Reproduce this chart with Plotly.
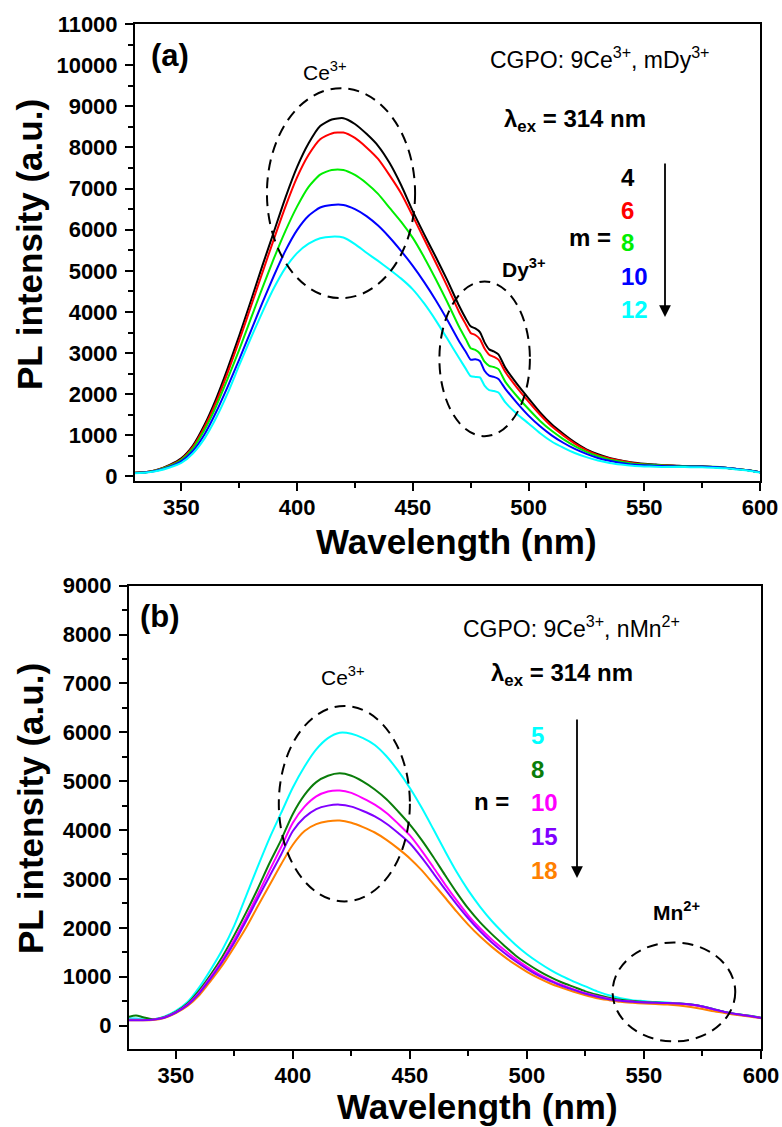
import plotly.graph_objects as go

# ---------------- data: panel (a) ----------------
lam_a = [330, 335, 340, 345, 350, 355, 360, 365, 370, 375, 380, 385, 390, 395, 400, 405, 410, 415, 420,
         425, 430, 435, 440, 445, 450, 455, 460, 465, 470, 473, 475, 477, 479, 481, 483, 485, 487, 490,
         495, 500, 505, 510, 515, 520, 525, 530, 535, 540, 545, 550, 555, 560, 565, 570, 575, 580, 585,
         590, 595, 600]

m4 = [90, 110, 170, 280, 440, 750, 1250, 1880, 2620, 3420, 4260, 5120, 5950, 6780, 7520, 8100, 8520, 8680, 8710,
      8570, 8330, 8040, 7620, 7080, 6450, 5880, 5330, 4760, 4150, 3830, 3650, 3600, 3510, 3260, 3090, 3040, 2970, 2640,
      2250, 1900, 1560, 1270, 1040, 830, 660, 540, 450, 390, 340, 310, 290, 270, 260, 250, 250, 230, 210,
      180, 150, 100]
m6 = [90, 110, 165, 270, 420, 720, 1200, 1800, 2520, 3300, 4120, 4950, 5770, 6560, 7270, 7820, 8200, 8340, 8360,
      8230, 8000, 7720, 7320, 6880, 6330, 5760, 5190, 4610, 4000, 3690, 3490, 3440, 3340, 3110, 2960, 2910, 2840, 2540,
      2160, 1820, 1500, 1220, 1000, 800, 640, 520, 440, 380, 330, 300, 280, 265, 255, 250, 245, 230, 210,
      180, 150, 100]
m8 = [90, 105, 160, 255, 400, 680, 1130, 1700, 2370, 3080, 3830, 4580, 5300, 5970, 6560, 7040, 7340, 7450, 7450,
      7330, 7130, 6870, 6530, 6190, 5800, 5320, 4790, 4230, 3640, 3330, 3120, 3080, 2990, 2790, 2690, 2660, 2610, 2300,
      1950, 1640, 1350, 1110, 910, 740, 600, 490, 410, 360, 310, 290, 275, 260, 255, 250, 245, 235, 215,
      185, 150, 105]
m10 = [85, 100, 150, 240, 370, 620, 1020, 1560, 2180, 2840, 3530, 4220, 4880, 5490, 5990, 6340, 6540, 6600, 6600,
       6500, 6330, 6100, 5810, 5480, 5120, 4720, 4280, 3800, 3290, 3020, 2840, 2850, 2810, 2570, 2450, 2420, 2370, 2130,
       1790, 1480, 1220, 1000, 820, 670, 550, 450, 380, 330, 290, 270, 260, 250, 245, 240, 240, 230, 215,
       185, 150, 100]
m12 = [80, 95, 140, 220, 330, 560, 920, 1420, 2020, 2700, 3360, 3990, 4580, 5070, 5430, 5660, 5790, 5830, 5810,
       5650, 5440, 5240, 5030, 4810, 4550, 4200, 3790, 3340, 2880, 2610, 2440, 2420, 2410, 2210, 2100, 2080, 2040, 1800,
       1520, 1290, 1050, 850, 700, 570, 470, 390, 330, 290, 260, 245, 235, 230, 230, 225, 225, 215, 200,
       170, 140, 95]

series_a = [("4", m4, "#000000"), ("6", m6, "#FF0000"), ("8", m8, "#00EE00"),
            ("10", m10, "#0000FF"), ("12", m12, "#00FFFF")]

# ---------------- data: panel (b) ----------------
lam_b = [330, 333, 336, 340, 345, 350, 355, 360, 365, 370, 375, 380, 385, 390, 395, 400, 405, 410, 415, 420,
         425, 430, 435, 440, 445, 450, 455, 460, 465, 470, 475, 480, 485, 490, 495, 500, 505, 510, 515, 520,
         525, 530, 535, 540, 545, 550, 555, 560, 565, 570, 575, 580, 585, 590, 595, 600]

n5 = [150, 145, 130, 125, 180, 300, 480, 780, 1150, 1560, 2050, 2650, 3250, 3830, 4350, 4870, 5300, 5650, 5880, 5990,
      5970, 5880, 5740, 5510, 5210, 4860, 4460, 4020, 3570, 3140, 2760, 2430, 2140, 1890, 1660, 1460, 1290, 1140, 1010, 900,
      800, 700, 620, 560, 520, 500, 480, 470, 450, 430, 390, 330, 270, 230, 200, 160]
n8 = [180, 205, 170, 130, 170, 280, 450, 720, 1050, 1420, 1850, 2310, 2800, 3320, 3800, 4330, 4720, 4980, 5110, 5160,
      5110, 4990, 4830, 4630, 4380, 4110, 3800, 3450, 3080, 2720, 2390, 2110, 1870, 1650, 1440, 1270, 1120, 990, 880, 790,
      700, 630, 570, 530, 500, 480, 470, 460, 450, 430, 390, 330, 270, 230, 200, 160]
n10 = [120, 120, 115, 120, 165, 270, 430, 680, 1000, 1350, 1760, 2200, 2680, 3170, 3650, 4150, 4480, 4690, 4790, 4810,
       4760, 4650, 4520, 4350, 4130, 3890, 3580, 3240, 2890, 2560, 2250, 1990, 1760, 1560, 1370, 1200, 1050, 930, 830, 740,
       660, 600, 550, 510, 490, 470, 460, 455, 445, 425, 385, 325, 265, 225, 195, 155]
n15 = [110, 110, 110, 120, 160, 265, 420, 660, 970, 1310, 1700, 2140, 2600, 3050, 3500, 3980, 4260, 4430, 4500, 4520,
       4480, 4390, 4280, 4130, 3940, 3730, 3440, 3120, 2790, 2480, 2190, 1930, 1700, 1500, 1320, 1160, 1020, 910, 810, 730,
       650, 590, 540, 505, 485, 470, 465, 460, 450, 430, 390, 330, 270, 230, 195, 155]
n18 = [110, 110, 110, 115, 155, 255, 400, 620, 920, 1240, 1610, 2000, 2440, 2870, 3300, 3700, 3980, 4120, 4180, 4195,
       4150, 4060, 3950, 3800, 3620, 3420, 3180, 2900, 2620, 2330, 2060, 1820, 1610, 1420, 1250, 1100, 970, 860, 770, 690,
       620, 560, 520, 485, 465, 450, 440, 430, 410, 380, 340, 290, 250, 215, 185, 150]

series_b_labels = [("5", "#00FFFF"), ("8", "#0A7D0A"), ("10", "#FF00FF"), ("15", "#8000FF"), ("18", "#FF8000")]
series_b_data = {"5": n5, "8": n8, "10": n10, "15": n15, "18": n18}
draw_order_b = ["5", "8", "10", "18", "15"]

x_ticks = [350, 400, 450, 500, 550, 600]

# ---------------- figure ----------------
W, H = 782, 1127
FONT = "Liberation Sans"


def P(x, y):
    return x / W, 1 - y / H


fig = go.Figure()

for name, vals, col in series_a:
    fig.add_trace(go.Scatter(x=lam_a, y=vals, mode="lines", line=dict(color=col, width=2, shape="spline", smoothing=0.6),
                             xaxis="x", yaxis="y", showlegend=False, hoverinfo="skip"))

col_b = dict(series_b_labels)
for name in draw_order_b:
    fig.add_trace(go.Scatter(x=lam_b, y=series_b_data[name], mode="lines",
                             line=dict(color=col_b[name], width=2, shape="spline", smoothing=0.8),
                             xaxis="x2", yaxis="y2", showlegend=False, hoverinfo="skip"))

tickfont = dict(family=FONT, size=22, color="black", weight="bold")


def xax(domain, anchor):
    return dict(domain=domain, anchor=anchor, range=[330, 600], tickmode="array", tickvals=x_ticks,
                automargin=False,
                ticks="outside", ticklen=8, tickwidth=2, tickcolor="black", showline=True, linewidth=2,
                linecolor="black", mirror=True, showgrid=False, zeroline=False, tickfont=tickfont,
                ticklabelstandoff=-2,
                minor=dict(ticks="outside", ticklen=5, tickwidth=1.5, tickcolor="black", dtick=25, tick0=325,
                           showgrid=False))


def yax(domain, anchor, rng):
    return dict(domain=domain, anchor=anchor, range=rng, dtick=1000, tick0=0, tickformat="d", ticks="outside",
                automargin=False,
                ticklen=8, tickwidth=2, tickcolor="black", showline=True, linewidth=2, linecolor="black",
                mirror=True, showgrid=False, zeroline=False, tickfont=tickfont, ticklabelstandoff=3,
                minor=dict(ticks="outside", ticklen=5, tickwidth=1.5, tickcolor="black", dtick=500, tick0=0,
                           showgrid=False))


fig.update_layout(
    width=W, height=H, margin=dict(l=0, r=0, t=0, b=0, pad=0, autoexpand=False),
    paper_bgcolor="white", plot_bgcolor="white",
    xaxis=xax([135 / W, 760 / W], "y"),
    yaxis=yax([1 - 481 / H, 1 - 24 / H], "x", [-110, 11000]),
    xaxis2=xax([129 / W, 761 / W], "y2"),
    yaxis2=yax([1 - 1049 / H, 1 - 585.7 / H], "x2", [-480, 9000]),
)

# dashed ellipses
dash = "11px,7px"
ell = [("x", "y", 387, 451, 4335, 9440), ("x", "y", 461.5, 500.6, 980, 4740),
       ("x2", "y2", 394, 450, 2540, 6540), ("x2", "y2", 536.6, 589, -325, 1700)]
for xr, yr, x0, x1, y0, y1 in ell:
    fig.add_shape(type="circle", xref=xr, yref=yr, x0=x0, x1=x1, y0=y0, y1=y1,
                  line=dict(color="black", width=2, dash=dash))

ann = []


def text(x, y, s, size, weight="normal", color="black", xanchor="center", angle=0):
    px, py = P(x, y)
    ann.append(dict(x=px, y=py, xref="paper", yref="paper", text=s, showarrow=False, xanchor=xanchor,
                    yanchor="middle", textangle=angle,
                    font=dict(family=FONT, size=size, color=color, weight=weight)))


# axis titles
text(456, 541, "Wavelength (nm)", 35, "bold")
text(477, 1106, "Wavelength (nm)", 35, "bold")
text(30, 245, "PL intensity (a.u.)", 35, "bold", angle=-90)
text(30, 809, "PL intensity (a.u.)", 35, "bold", angle=-90)

# panel (a)
text(170, 55, "(a)", 31, "bold")
text(325, 71, "Ce<sup>3+</sup>", 21)
text(524, 268, "Dy<sup>3+</sup>", 21, "bold")
text(600, 58, "CGPO: 9Ce<sup>3+</sup>, mDy<sup>3+</sup>", 23)
text(575, 121, "λ<sub>ex</sub> = 314 nm", 24, "bold")
text(590, 237, "m =", 24, "bold")
ya = [177, 211, 243, 276, 309]
for (name, _, col), yy in zip(series_a, ya):
    text(619, yy, name, 24, "bold", col, xanchor="left")

# panel (b)
text(160, 616, "(b)", 31, "bold")
text(343, 676, "Ce<sup>3+</sup>", 21)
text(676, 911, "Mn<sup>2+</sup>", 21, "bold")
text(571, 627, "CGPO: 9Ce<sup>3+</sup>, nMn<sup>2+</sup>", 23)
text(562, 674, "λ<sub>ex</sub> = 314 nm", 24, "bold")
text(491, 801, "n =", 24, "bold")
yb = [735, 769, 802, 836, 870]
for (name, col), yy in zip(series_b_labels, yb):
    text(529, yy, name, 24, "bold", col, xanchor="left")

# arrows
for xa, y_top, y_tip in [(665, 162, 317), (577, 718, 878)]:
    px, py = P(xa, y_tip)
    ann.append(dict(x=px, y=py, xref="paper", yref="paper", ax=0, ay=-(y_tip - y_top), axref="pixel",
                    ayref="pixel", showarrow=True, arrowhead=2, arrowsize=1.3, arrowwidth=1.8,
                    arrowcolor="black", text=""))

fig.update_layout(annotations=ann)

fig.write_html("out.html")
